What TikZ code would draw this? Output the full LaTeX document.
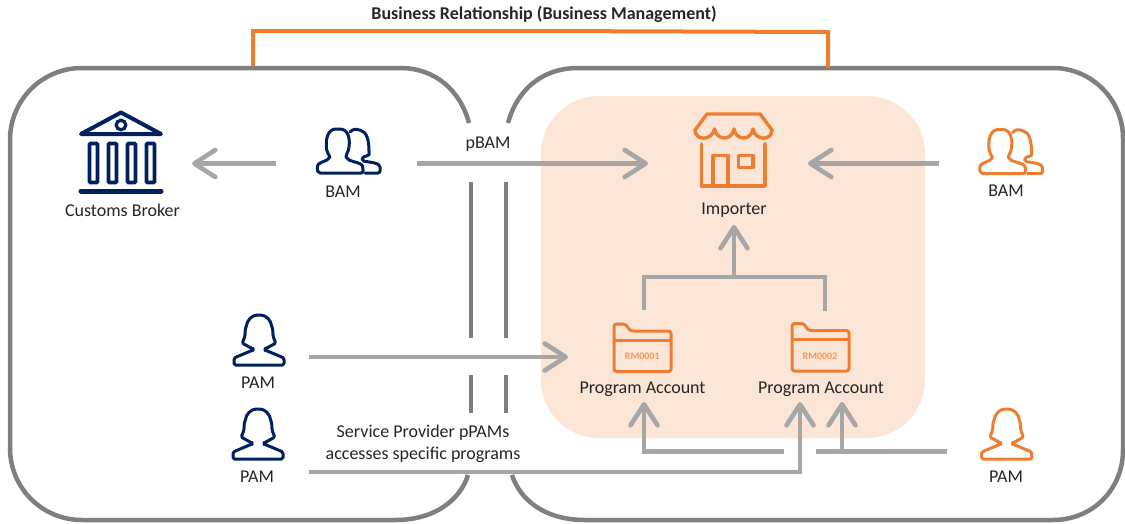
\documentclass[tikz,border=0pt]{standalone}
\usepackage{fontspec}
\setmainfont{Carlito}
\usetikzlibrary{arrows.meta}
\definecolor{navyc}{HTML}{002060}
\definecolor{orangec}{HTML}{ED7D31}
\definecolor{peachc}{HTML}{FBE5D6}
\definecolor{shellc}{HTML}{7F7F7F}
\definecolor{arrowc}{HTML}{A6A6A6}
\definecolor{textc}{HTML}{262626}
\tikzset{
  lbl/.style={text=textc,font=\fontsize{18}{22}\selectfont,inner sep=0pt,align=center},
  shell/.style={draw=shellc,line width=4.5pt},
  gapline/.style={draw=shellc,line width=3.8pt},
  conn/.style={draw=arrowc,line width=4.4pt},
  arr/.style={conn,-{Straight Barb[length=21pt,width=27pt,round,line width=4.6pt]}},
  iconline/.style={line width=3pt,line join=round,line cap=round},
  bampic/.pic={
    \draw[iconline,rounded corners=2pt] (-30,22) -- (15,22) -- (15,17) .. controls (14,12) and (5,11) .. (-1,8) .. controls (-2,6) and (-2,4) .. (0,1) .. controls (3,-12) and (0,-22) .. (-10,-22) .. controls (-20,-22) and (-23,-12) .. (-21,1) .. controls (-19,4) and (-18,6) .. (-19,8) .. controls (-25,11) and (-30,12) .. (-31,17) -- cycle;
    \draw[iconline,rounded corners=2pt] (2,-19) .. controls (5,-22) and (8,-22) .. (11,-21) .. controls (19,-19) and (21,-10) .. (21,2) .. controls (21,3) and (20,5) .. (14,6) -- (14,10) .. controls (22,11) and (32,12) .. (32,18) -- (32,22) -- (17,22);
  },
  pampic/.pic={
    \draw[iconline,rounded corners=1.5pt] (-25,25) -- (25,25) -- (25,18) -- (6,10) -- (6,9) -- (17,3) .. controls (13,-4) and (14,-10) .. (13,-12) .. controls (12,-20) and (7,-25) .. (0,-25) .. controls (-7,-25) and (-12,-20) .. (-13,-12) .. controls (-14,-10) and (-13,-4) .. (-17,3) -- (-6,9) -- (-6,10) -- (-25,18) -- cycle;
  },
  folderpic/.pic={
    \draw[iconline,rounded corners=2.5pt] (-28.5,24) -- (28.5,24) -- (28.5,-16.5) -- (-12,-16.5) -- (-17,-23.5) -- (-28.5,-23.5) -- cycle;
    \draw[iconline] (-28.5,-7.5) -- (28.5,-7.5);
  }
}
\begin{document}
\begin{tikzpicture}[x=1pt,y=-1pt]
\useasboundingbox (0,0) rectangle (1125,523);
\fill[white] (0,0) rectangle (1125,523);
% program region
\fill[peachc,rounded corners=58pt] (541,96) rectangle (925,438);
% shells
\draw[shell] (469,123) .. controls (460,90) and (435,68) .. (400,68) -- (82,68) .. controls (42,68) and (10,100) .. (10,140) -- (10,448) .. controls (10,488) and (42,520) .. (82,520) -- (395,520) .. controls (435,520) and (460,500) .. (468,475);
\draw[shell] (508,123) .. controls (517,90) and (542,68) .. (578,68) -- (1053,68) .. controls (1092,68) and (1123,100) .. (1123,138) -- (1123,450) .. controls (1123,490) and (1092,520) .. (1053,520) -- (585,520) .. controls (545,520) and (520,500) .. (512,475);
\foreach \gx in {471,506}{
  \draw[gapline] (\gx,182) -- (\gx,338);
  \draw[gapline] (\gx,375) -- (\gx,413);
}
% orange bracket
\coordinate (brL) at (253,66);
\coordinate (brR) at (828,68);
\draw[orangec,line width=4pt] (brL) |- (540,31) -- (828,32) -- (brR);
\node[lbl,font=\fontsize{18}{22}\selectfont\bfseries] (title) at (544,14.5) {Business Relationship (Business Management)};
% coordinates of connector ends
\coordinate (bamL) at (276,163.5);
\coordinate (brokerIn) at (192,163.5);
\coordinate (pbamS) at (417,163.5);
\coordinate (impW) at (648,163.5);
\coordinate (bamR) at (939,163.5);
\coordinate (impE) at (808,163.5);
\coordinate (impS) at (734,225);
\coordinate (junc) at (734,277);
\coordinate (pa1N) at (644,310);
\coordinate (pa2N) at (825,311);
\coordinate (pamA) at (309,357);
\coordinate (pa1W) at (568,357);
\coordinate (pamB) at (309,472);
\coordinate (pa2S) at (800,402);
\coordinate (pamR) at (947,451.5);
\coordinate (gapR) at (816,451.5);
\coordinate (gapL) at (784,451.5);
\coordinate (pa1S) at (644,402);
\coordinate (pa2Sb) at (842,402);
% connectors
\draw[arr] (bamL) -- (brokerIn);
\draw[arr] (pbamS) -- (impW);
\draw[arr] (bamR) -- (impE);
\draw[arr] (junc) -- (impS);
\draw[conn] (pa1N) |- (pa2N |- junc) -- (pa2N);
\draw[arr] (pamA) -- (pa1W);
\draw[arr] (pamB) -| (pa2S);
\draw[conn] (pamR) -- (gapR);
\draw[arr] (pa2Sb |- pamR) -- (pa2Sb);
\draw[arr] (gapL) -| (pa1S);
% bank icon
\begin{scope}[navyc]
  \draw[line width=4pt,line join=round,line cap=round] (81,134) -- (121,112.5) -- (161,134) -- cycle;
  \draw[line width=3.2pt] (121,125) circle (4.8pt);
  \foreach \cx in {93.5,112.5,131.5,150.5}
    \draw[line width=3.6pt,rounded corners=1pt] (\cx-4,143.5) rectangle (\cx+4,182.5);
  \draw[line width=5pt,line cap=round] (81,191) -- (161,191);
\end{scope}
\pic[color=navyc] (bam1) at (348,151) {bampic};
\pic[color=orangec] (bam2) at (1010.5,151.5) {bampic};
\pic[color=navyc] (pam1) at (259,340) {pampic};
\pic[color=navyc] (pam2) at (258,434) {pampic};
\pic[color=orangec] (pam3) at (1006.7,434) {pampic};
% store icon
\begin{scope}[orangec]
  \draw[iconline,line width=3.4pt] (701.5,144) -- (701.5,186) -- (765,186) -- (765,144);
  \draw[iconline,line width=3.4pt] (707,114) -- (760,114) -- (772,130)
     .. controls (772,141) and (755,141) .. (753,129)
     .. controls (751,141) and (736,141) .. (734,129)
     .. controls (732,141) and (717,141) .. (714.5,129)
     .. controls (712,141) and (695,141) .. (695,130) -- cycle;
  \draw[iconline,line width=3.4pt] (713,186) -- (713,155.5) -- (728,155.5) -- (728,186);
  \draw[iconline,line width=3.4pt] (738.5,155.5) rectangle (753,167.5);
\end{scope}
\pic[color=orangec] (f1) at (642.5,347.5) {folderpic};
\pic[color=orangec] (f2) at (820.5,347) {folderpic};
\node[inner sep=0pt,text=orangec!75!peachc,font=\fontsize{10}{12}\selectfont\bfseries] (rm1) at (642.3,356) {RM0001};
\node[inner sep=0pt,text=orangec!75!peachc,font=\fontsize{10}{12}\selectfont\bfseries] (rm2) at (820,356) {RM0002};
% labels
\node[lbl] (broker) at (122.5,210.5) {Customs Broker};
\node[lbl] (bamLa) at (343,191.5) {BAM};
\node[lbl] (pbam) at (488,144) {pBAM};
\node[lbl] (importer) at (734,210.5) {Importer};
\node[lbl] (bamRa) at (1006,190.5) {BAM};
\node[lbl] (pa1) at (642.5,389.5) {Program Account};
\node[lbl] (pa2) at (821,389) {Program Account};
\node[lbl] (pamAa) at (258,382.5) {PAM};
\node[lbl] (pamBa) at (257,476.5) {PAM};
\node[lbl] (pamRa) at (1006,476.5) {PAM};
\node[lbl,font=\fontsize{18}{22}\selectfont] (spp) at (423,444) {Service Provider pPAMs\\accesses specific programs};
\end{tikzpicture}
\end{document}
